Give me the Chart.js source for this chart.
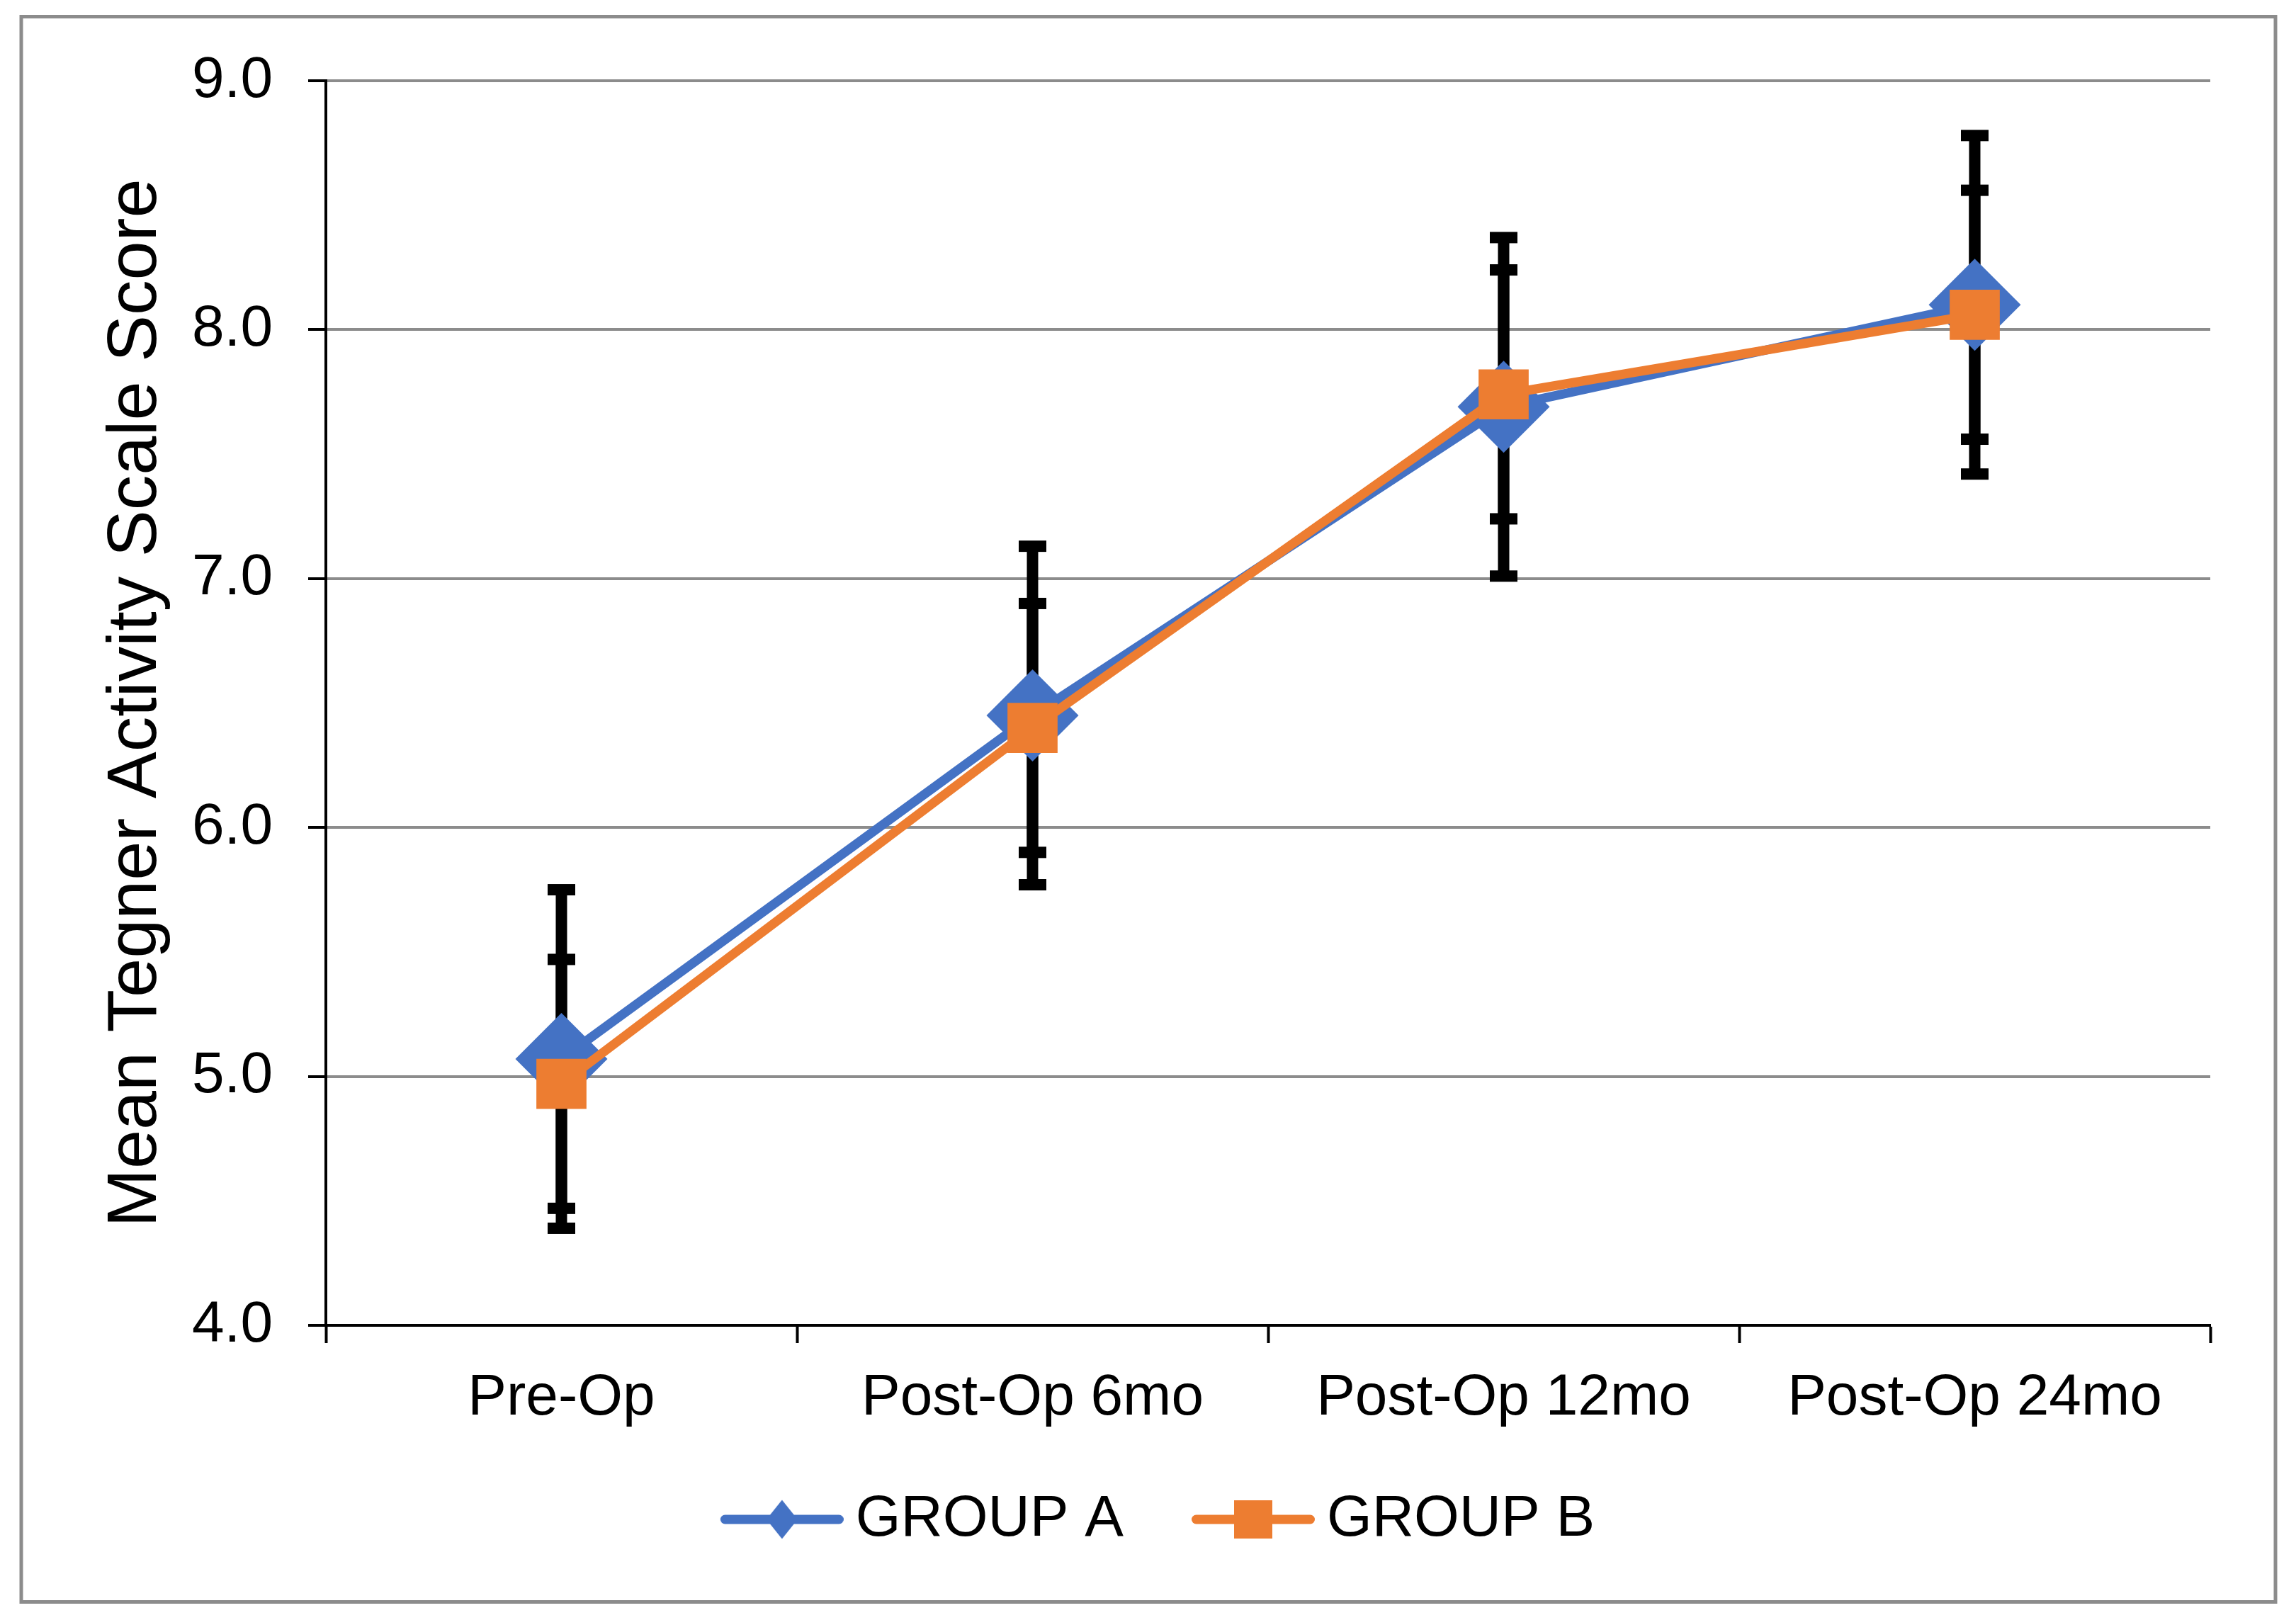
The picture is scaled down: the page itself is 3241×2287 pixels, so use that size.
<!DOCTYPE html>
<html>
<head>
<meta charset="utf-8">
<title>Mean Tegner Activity Scale Score</title>
<script src="https://cdn.jsdelivr.net/npm/chart.js@4.4.1/dist/chart.umd.min.js"></script>
<style>
    html, body { margin: 0; padding: 0; background: #fff; }
    canvas { display: block; }
</style>
</head>
<body>
<canvas id="myChart" width="3241" height="2287" style="width:3241px;height:2287px"></canvas>
<script>
// Datos del gráfico
const categories = ['Pre-Op', 'Post-Op 6mo', 'Post-Op 12mo', 'Post-Op 24mo'];
const groupA = [5.07, 6.45, 7.69, 8.10];
const groupB = [4.97, 6.40, 7.74, 8.06];
const errorA = [0.68, 0.68, 0.68, 0.68];
const errorB = [0.50, 0.50, 0.50, 0.50];
const yTicks = [4, 5, 6, 7, 8, 9];

const BLUE = '#4472C4';
const ORANGE = '#ED7D31';
const GRID = '#8c8c8c';
const FONT = 'Liberation Sans, Arial, sans-serif';

// Símbolo de leyenda: línea + marcador (con margen transparente a la izquierda)
function legendSymbol(color, shape) {
    const c = document.createElement('canvas');
    c.width = 225;
    c.height = 60;
    const g = c.getContext('2d');
    const cx = 138;
    g.strokeStyle = color;
    g.lineWidth = 13;
    g.lineCap = 'round';
    g.beginPath();
    g.moveTo(57.5, 30);
    g.lineTo(218.5, 30);
    g.stroke();
    g.fillStyle = color;
    if (shape === 'rectRot') {
        g.beginPath();
        g.moveTo(cx, 2.5);
        g.lineTo(cx + 22, 30);
        g.lineTo(cx, 57.5);
        g.lineTo(cx - 22, 30);
        g.closePath();
        g.fill();
    } else {
        g.fillRect(cx - 27, 3, 54, 54);
    }
    return c;
}

// Fondo blanco y marco gris del gráfico
const chartFrame = {
    id: 'chartFrame',
    beforeDraw(chart) {
        const ctx = chart.ctx;
        ctx.save();
        ctx.fillStyle = '#fff';
        ctx.fillRect(0, 0, chart.width, chart.height);
        ctx.strokeStyle = GRID;
        ctx.lineWidth = 5;
        ctx.strokeRect(30, 23.5, 3182, 2238);
        ctx.restore();
    }
};

// Barras de error negras, detrás de los marcadores
const errorBars = {
    id: 'errorBars',
    beforeDatasetsDraw(chart) {
        const ctx = chart.ctx;
        const y = chart.scales.y;
        chart.data.datasets.forEach((ds, i) => {
            const meta = chart.getDatasetMeta(i);
            meta.data.forEach((pt, j) => {
                const top = y.getPixelForValue(ds.data[j] + ds.errors[j]);
                const bot = y.getPixelForValue(ds.data[j] - ds.errors[j]);
                ctx.save();
                ctx.fillStyle = '#000';
                ctx.fillRect(pt.x - 8, top, 16, bot - top);
                ctx.fillRect(pt.x - 19.5, top - 8, 39, 16);
                ctx.fillRect(pt.x - 19.5, bot - 8, 39, 16);
                ctx.restore();
            });
        });
    }
};

const ctx = document.getElementById('myChart').getContext('2d');

const myChart = new Chart(ctx, {
    type: 'line',
    data: {
        labels: categories,
        datasets: [{
            label: 'GROUP A',
            data: groupA,
            errors: errorA,
            borderColor: BLUE,
            backgroundColor: BLUE,
            borderWidth: 13,
            pointStyle: 'rectRot',
            pointRadius: 65,
            pointBorderWidth: 0,
            pointBackgroundColor: BLUE,
            tension: 0,
            order: 2
        }, {
            label: 'GROUP B',
            data: groupB,
            errors: errorB,
            borderColor: ORANGE,
            backgroundColor: ORANGE,
            borderWidth: 13,
            pointStyle: 'rect',
            pointRadius: 50,
            pointBorderWidth: 0,
            pointBackgroundColor: ORANGE,
            tension: 0,
            order: 1
        }]
    },
    options: {
        responsive: false,
        devicePixelRatio: 1,
        animation: false,
        events: [],
        layout: {
            padding: { top: 114, right: 121, bottom: 91, left: 121 }
        },
        plugins: {
            tooltip: { enabled: false },
            legend: {
                position: 'bottom',
                labels: {
                    usePointStyle: true,
                    pointStyleWidth: 177,
                    padding: 69,
                    color: '#000',
                    font: { family: FONT, size: 82 },
                    generateLabels: function (chart) {
                        return chart.data.datasets.map((ds, i) => ({
                            text: ds.label,
                            pointStyle: legendSymbol(ds.borderColor, ds.pointStyle),
                            fillStyle: ds.borderColor,
                            strokeStyle: ds.borderColor,
                            lineWidth: 0,
                            hidden: false,
                            datasetIndex: i
                        }));
                    }
                }
            }
        },
        scales: {
            x: {
                type: 'category',
                offset: true,
                grid: {
                    offset: true,
                    drawOnChartArea: false,
                    drawTicks: true,
                    tickLength: 25,
                    tickColor: '#000',
                    tickWidth: 4
                },
                border: { color: '#000', width: 4 },
                ticks: {
                    color: '#000',
                    padding: 29,
                    maxRotation: 0,
                    autoSkip: false,
                    font: { family: FONT, size: 82 }
                },
                afterFit: function (scale) {
                    scale.height = 164;
                }
            },
            y: {
                min: 4,
                max: 9,
                grid: {
                    color: GRID,
                    lineWidth: 4,
                    tickLength: 25,
                    tickColor: '#000',
                    tickWidth: 4
                },
                border: { color: '#000', width: 4 },
                ticks: {
                    color: '#000',
                    padding: 50,
                    font: { family: FONT, size: 82 },
                    callback: value => value.toFixed(1)
                },
                afterBuildTicks: function (scale) {
                    scale.ticks = yTicks.map(v => ({ value: v }));
                },
                title: {
                    display: true,
                    text: 'Mean Tegner Activity Scale Score',
                    color: '#000',
                    padding: { top: 42, bottom: 0 },
                    font: { family: FONT, size: 99, lineHeight: 0.6 }
                },
                afterFit: function (scale) {
                    scale.width = 339;
                }
            }
        }
    },
    plugins: [chartFrame, errorBars]
});
</script>
</body>
</html>
